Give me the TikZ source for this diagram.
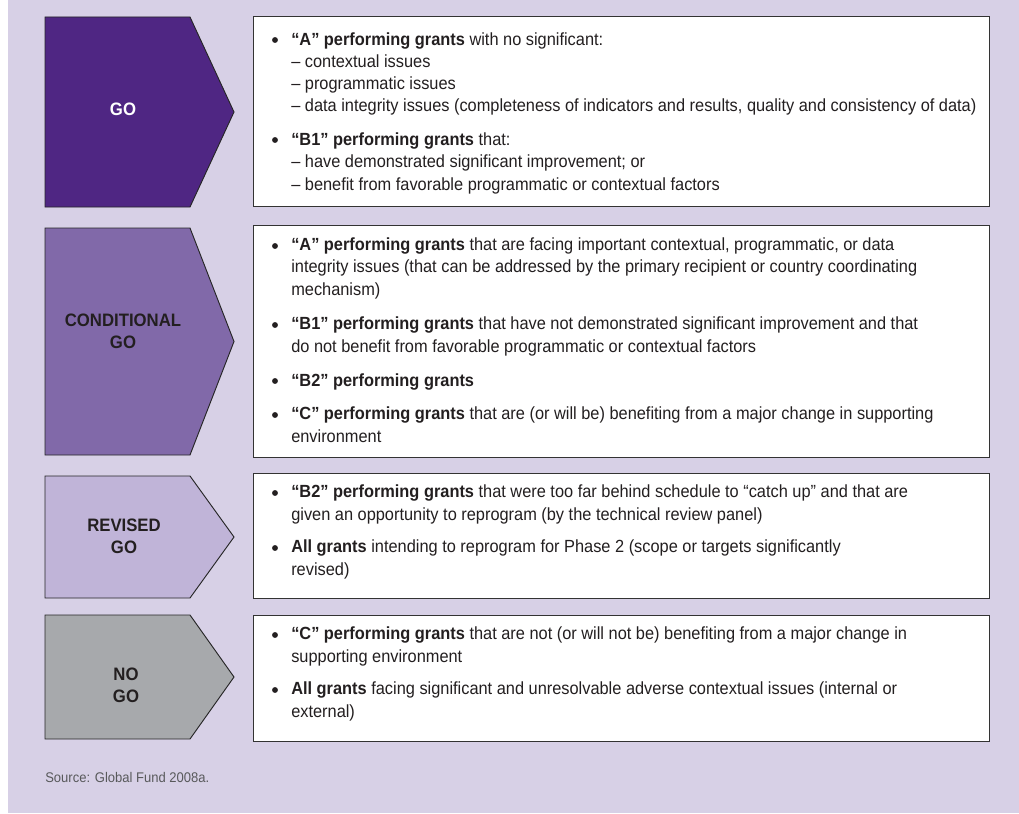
\documentclass[tikz,border=0pt]{standalone}
\usepackage{fontspec}
\setmainfont{Liberation Sans}[FakeStretch=0.93]
\definecolor{bgc}{HTML}{D7D0E6}
\definecolor{gofill}{HTML}{4F2683}
\definecolor{condfill}{HTML}{8169A9}
\definecolor{revfill}{HTML}{C0B4D8}
\definecolor{nogofill}{HTML}{A7A9AC}
\definecolor{darktext}{HTML}{231F20}
\definecolor{srctext}{HTML}{58595B}
\tikzset{
  chev/.style={draw=black!85, line width=0.7pt},
  lbl/.style={font=\fontsize{13.5}{16.5}\selectfont\bfseries, align=center, text=darktext, inner sep=0},
  wbox/.style={draw=black!80, line width=0.8pt, fill=white, anchor=north west, inner sep=0},
  para/.style={anchor=base west, align=left, inner sep=0, font=\fontsize{13.2}{16.6}\selectfont, text=darktext},
  bul/.style={circle, fill=darktext, inner sep=0, minimum size=4.4pt},
  src/.style={anchor=base west, inner sep=0, font=\fontsize{10.5}{12}\selectfont, text=srctext}
}
\begin{document}
\begin{tikzpicture}[x=0.75pt,y=-0.75pt]
\useasboundingbox (0,0) rectangle (1019,813);
\fill[bgc] (8,0) rectangle (1019,813);

% chevrons
\path[chev, fill=gofill]   (45,17)  -- (190,17)  -- (234,112) -- (190,207) -- (45,207) -- cycle;
\path[chev, fill=condfill] (45,228) -- (190,228) -- (234,341.5) -- (190,455) -- (45,455) -- cycle;
\path[chev, fill=revfill]  (45,476) -- (190,476) -- (234,537) -- (190,598) -- (45,598) -- cycle;
\path[chev, fill=nogofill] (45,615) -- (190,615) -- (234,677) -- (190,739) -- (45,739) -- cycle;

\node[lbl, text=white] (lgo) at (123,109) {GO};
\node[lbl] (lcond) at (123,331) {CONDITIONAL\\GO};
\node[lbl] (lrev) at (124,536) {REVISED\\GO};
\node[lbl] (lnogo) at (126,685) {NO\\GO};

% white boxes
\node[wbox, minimum width=552pt, minimum height=142.5pt] (b1) at (253,16) {};
\node[wbox, minimum width=552pt, minimum height=174pt] (b2) at (253,225) {};
\node[wbox, minimum width=552pt, minimum height=93.75pt] (b3) at (253,473) {};
\node[wbox, minimum width=552pt, minimum height=94.5pt] (b4) at (253,615) {};

% box 1 (para anchors sit on the baseline of the last line)
\node[bul] (d11) at (275,40) {};
\node[para] (t11) at (291,112) {\textbf{“A” performing grants} with no significant:\\– contextual issues\\– programmatic issues\\– data integrity issues (completeness of indicators and results, quality and consistency of data)};
\node[bul] (d12) at (275,140) {};
\node[para] (t12) at (291,190) {\textbf{“B1” performing grants} that:\\– have demonstrated significant improvement; or\\– benefit from favorable programmatic or contextual factors};

% box 2
\node[bul] (d21) at (275,246) {};
\node[para] (t21) at (291,295) {\textbf{“A” performing grants} that are facing important contextual, programmatic, or data\\integrity issues (that can be addressed by the primary recipient or country coordinating\\mechanism)};
\node[bul] (d22) at (275,325) {};
\node[para] (t22) at (291,352) {\textbf{“B1” performing grants} that have not demonstrated significant improvement and that\\do not benefit from favorable programmatic or contextual factors};
\node[bul] (d23) at (275,381) {};
\node[para] (t23) at (291,386) {\textbf{“B2” performing grants}};
\node[bul] (d24) at (275,415) {};
\node[para] (t24) at (291,442) {\textbf{“C” performing grants} that are (or will be) benefiting from a major change in supporting\\environment};

% box 3
\node[bul] (d31) at (275,493) {};
\node[para] (t31) at (291,520) {\textbf{“B2” performing grants} that were too far behind schedule to “catch up” and that are\\given an opportunity to reprogram (by the technical review panel)};
\node[bul] (d32) at (275,548) {};
\node[para] (t32) at (291,575) {\textbf{All grants} intending to reprogram for Phase 2 (scope or targets significantly\\revised)};

% box 4
\node[bul] (d41) at (275,635) {};
\node[para] (t41) at (291,662) {\textbf{“C” performing grants} that are not (or will not be) benefiting from a major change in\\supporting environment};
\node[bul] (d42) at (275,690) {};
\node[para] (t42) at (291,717) {\textbf{All grants} facing significant and unresolvable adverse contextual issues (internal or\\external)};

\node[src] (source) at (45,782) {Source: Global Fund 2008a.};
\end{tikzpicture}
\end{document}
